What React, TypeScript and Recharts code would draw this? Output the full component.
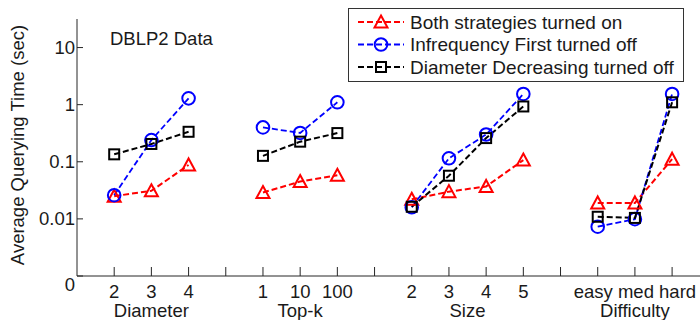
import React from 'react';
import { LineChart, Line, XAxis, YAxis, Legend } from 'recharts';

// ---- data ----
const groupNames = ['Diameter', 'Top-k', 'Size', 'Difficulty'];
const groupCategories = [
  ['2', '3', '4'],
  ['1', '10', '100'],
  ['2', '3', '4', '5'],
  ['easy', 'med', 'hard'],
];
const bothOn = [
  [0.025, 0.031, 0.088],
  [0.029, 0.045, 0.058],
  [0.022, 0.03, 0.037, 0.107],
  [0.019, 0.019, 0.111],
];
const infreqOff = [
  [0.026, 0.24, 1.29],
  [0.4, 0.32, 1.1],
  [0.016, 0.115, 0.3, 1.54],
  [0.0073, 0.0099, 1.54],
];
const diamOff = [
  [0.135, 0.205, 0.335],
  [0.127, 0.225, 0.318],
  [0.0163, 0.057, 0.26, 0.93],
  [0.0109, 0.0104, 1.1],
];
const yTicks = [0.001, 0.01, 0.1, 1, 10];
const yTickLabels = ['0', '0.01', '0.1', '1', '10'];
const seriesNames = [
  'Both strategies turned on',
  'Infrequency First turned off',
  'Diameter Decreasing turned off',
];
const seriesKeys = ['both', 'infreq', 'diam'];
const seriesColors = ['#ff0000', '#0000ff', '#000000'];
const seriesMarkers = ['triangle', 'circle', 'square'];
const chartTitle = 'DBLP2 Data';
const yTitle = 'Average Querying Time (sec)';

// ---- build table ----
const rows: any[] = [];
const tickLabel: Record<string, string> = {};
const textTicks: Record<string, boolean> = {};
const groupCenters: Record<string, string> = {};
const joinedLabels: Record<string, string> = {};
let cursor = 1;
groupNames.forEach((g, gi) => {
  const start = cursor;
  const cats = groupCategories[gi];
  const isText = cats.some((c) => isNaN(Number(c)));
  cats.forEach((c, ci) => {
    rows.push({ x: cursor, both: bothOn[gi][ci], infreq: infreqOff[gi][ci], diam: diamOff[gi][ci] });
    tickLabel[String(cursor)] = c;
    if (isText) textTicks[String(cursor)] = true;
    cursor++;
  });
  const center = String((start + cursor - 1) / 2);
  groupCenters[center] = g;
  if (isText) joinedLabels[center] = cats.join(' ');
  if (gi < groupNames.length - 1) {
    rows.push({ x: cursor, both: null, infreq: null, diam: null });
    tickLabel[String(cursor)] = '';
    cursor++;
  }
});
const xMax = cursor - 1 + 0.75;
const xTicks = Array.from(
  new Set([...Object.keys(tickLabel), ...Object.keys(groupCenters)].map(Number))
).sort((a, b) => a - b);

const FONT = '"Liberation Sans", Arial, sans-serif';
const TXT = '#1a1a1a';
const AX = '#262626';
const FS = 18.5;

const Marker = ({ type, cx, cy, color }: any) => {
  if (type === 'triangle') {
    const h = 11, w = 13;
    return (
      <path
        d={`M${cx},${cy - h / 2 - 1} L${cx + w / 2},${cy + h / 2} L${cx - w / 2},${cy + h / 2} Z`}
        fill="none" stroke={color} strokeWidth={2}
      />
    );
  }
  if (type === 'circle') {
    return <circle cx={cx} cy={cy} r={6.3} fill="none" stroke={color} strokeWidth={2} />;
  }
  return <rect x={cx - 5} y={cy - 5} width={10} height={10} fill="none" stroke={color} strokeWidth={2} />;
};

const makeDot = (type: string, color: string) => (props: any) => {
  const { cx, cy, index, value } = props;
  if (cx == null || cy == null || value == null || (Array.isArray(value) && value[1] == null)) {
    return <g key={`e-${index}`} />;
  }
  return (
    <g key={`d-${index}`}>
      <Marker type={type} cx={cx} cy={cy} color={color} />
    </g>
  );
};

const XTick = (props: any) => {
  const { x, y, payload } = props;
  const key = String(payload.value);
  const lab = textTicks[key] ? '' : tickLabel[key];
  const joined = joinedLabels[key];
  const grp = groupCenters[key];
  return (
    <g>
      {tickLabel[key] !== undefined && <line x1={x} x2={x} y1={y} y2={y - 9} stroke={AX} strokeWidth={1} />}
      {lab ? (
        <text x={x} y={y + 22} textAnchor="middle" fontFamily={FONT} fontSize={FS} fill={TXT}>
          {lab}
        </text>
      ) : null}
      {joined ? (
        <text x={x} y={y + 22} textAnchor="middle" fontFamily={FONT} fontSize={FS} fill={TXT}>
          {joined}
        </text>
      ) : null}
      {grp ? (
        <text x={x} y={y + 41} textAnchor="middle" fontFamily={FONT} fontSize={FS} fill={TXT}>
          {grp}
        </text>
      ) : null}
    </g>
  );
};

const YTick = (props: any) => {
  const { x, y, payload } = props;
  const i = yTicks.findIndex((t) => Math.abs(Math.log10(t) - Math.log10(payload.value)) < 1e-6);
  return (
    <g>
      <line x1={x} x2={x + 6} y1={y} y2={y} stroke={AX} strokeWidth={1} />
      <text x={x - 2} y={y + 6.6 + (i === 0 ? 8 : 0)} textAnchor="end" fontFamily={FONT} fontSize={FS} fill={TXT}>
        {i >= 0 ? yTickLabels[i] : ''}
      </text>
    </g>
  );
};

const LegendBox = () => (
  <svg width={336} height={74} style={{ display: 'block' }}>
    <rect x={0.5} y={0.5} width={335} height={73} fill="#ffffff" stroke="#333333" strokeWidth={1} />
    {seriesNames.map((name, i) => {
      const cy = 14 + i * 22.5;
      return (
        <g key={name}>
          <line x1={10} x2={56} y1={cy} y2={cy} stroke={seriesColors[i]} strokeWidth={2} strokeDasharray="6 3" />
          <Marker type={seriesMarkers[i]} cx={33} cy={cy} color={seriesColors[i]} />
          <text x={62} y={cy + 6.8} fontFamily={FONT} fontSize={19} fill={TXT}>
            {name}
          </text>
        </g>
      );
    })}
  </svg>
);

export default function App() {
  return (
    <div style={{ position: 'absolute', left: 0, top: 0, width: 700, height: 320, background: '#fff' }}>
      <LineChart width={700} height={320} data={rows} margin={{ top: 19, right: 0, bottom: 0, left: 0 }}>
        <XAxis
          dataKey="x"
          type="number"
          domain={[0, xMax]}
          ticks={xTicks}
          interval={0}
          height={44}
          tickSize={0}
          tickMargin={0}
          tickLine={false}
          axisLine={{ stroke: AX, strokeWidth: 1 }}
          tick={<XTick />}
          allowDataOverflow
        />
        <YAxis
          type="number"
          scale="log"
          domain={[0.001, Math.pow(10, 1.5)]}
          ticks={yTicks}
          interval={0}
          width={77}
          tickSize={0}
          tickMargin={0}
          tickLine={false}
          axisLine={{ stroke: AX, strokeWidth: 1 }}
          tick={<YTick />}
          allowDataOverflow
        />
        <Legend
          layout="horizontal"
          verticalAlign="middle"
          align="center"
          wrapperStyle={{ position: 'absolute', left: 348, top: 8, width: 336, height: 74 }}
          content={() => <LegendBox />}
        />
        {seriesKeys.map((k, i) => (
          <Line
            key={k}
            dataKey={k}
            name={seriesNames[i]}
            type="linear"
            stroke={seriesColors[i]}
            strokeWidth={i === 1 ? 1.8 : 2}
            strokeDasharray="6 3"
            connectNulls={false}
            dot={makeDot(seriesMarkers[i], seriesColors[i])}
            activeDot={false}
            isAnimationActive={false}
          />
        ))}
        <text x={110} y={45} fontFamily={FONT} fontSize={FS} fill={TXT}>
          {chartTitle}
        </text>
        <text
          x={0}
          y={0}
          transform="translate(23.5,145) rotate(-90)"
          textAnchor="middle"
          fontFamily={FONT}
          fontSize={FS}
          fill={TXT}
        >
          {yTitle}
        </text>
      </LineChart>
    </div>
  );
}
